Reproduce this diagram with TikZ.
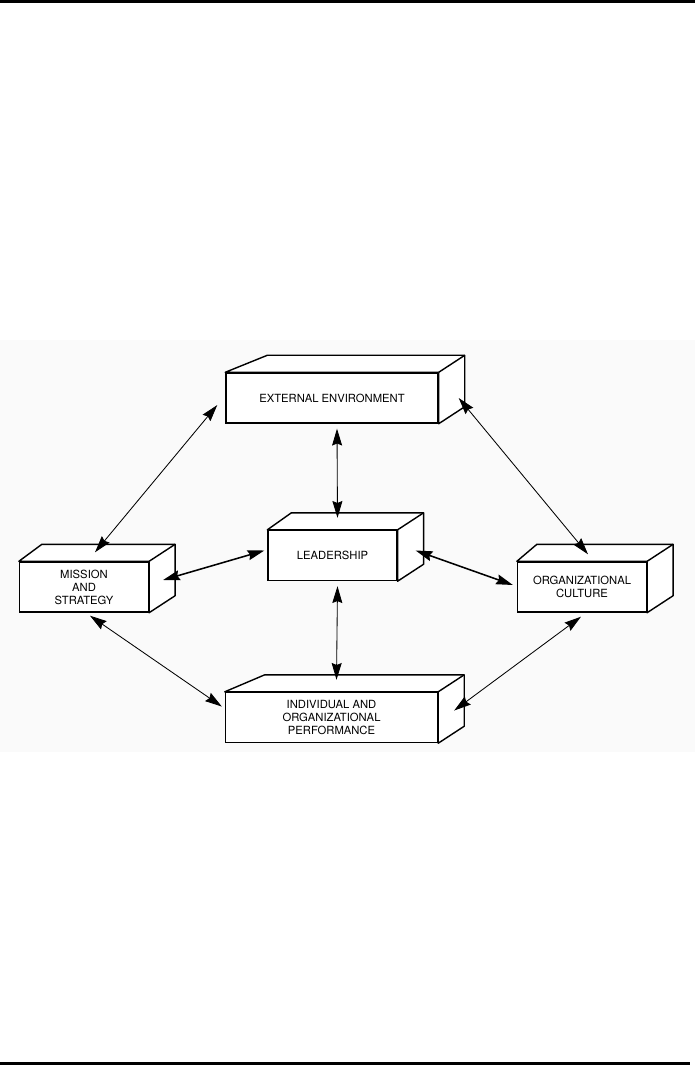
\documentclass[tikz,border=0pt]{standalone}
\usepackage{fontspec}
\setmainfont{TeX Gyre Heros}
\usetikzlibrary{arrows.meta}

\begin{document}
\begin{tikzpicture}[
    x=0.025cm, y=-0.025cm,
    block/.style={draw, fill=white, line width=1pt, inner sep=0pt, minimum height=1.25cm, align=center, font=\fontsize{8}{9.2}\selectfont},
    wide/.style={block, minimum width=5.3cm},
    narrow/.style={block, minimum width=3.22cm},
    face/.style={draw, fill=white, line width=1pt, line join=round},
    link/.style={draw, line width=0.6pt, {Stealth[length=4.2mm,width=2.5mm,inset=0.5mm]}-{Stealth[length=4.2mm,width=2.5mm,inset=0.5mm]}},
    boldlink/.style={link, line width=1.1pt}
]

% Page frame and scanned area
\useasboundingbox (0,0) rectangle (695,1066);
\fill[black!2] (0,340) rectangle (695,752);
\draw[line width=2.1pt] (0,1.5) -- (695,1.5);
\draw[line width=2.1pt] (0,1063.5) -- (690,1063.5);

% Define node positions
\node[wide] (EE) at (332,398) {EXTERNAL ENVIRONMENT};
\node[narrow] (L) at (332.5,555.5) {LEADERSHIP};
\node[narrow] (MS) at (84,587) {MISSION\\AND\\STRATEGY};
\node[narrow] (OC) at (582,587) {ORGANIZATIONAL\\CULTURE};
\node[wide] (IOP) at (331.5,717.5) {INDIVIDUAL AND\\ORGANIZATIONAL\\PERFORMANCE};

% Give each block its depth
\foreach \n/\l in {EE/42, L/24, MS/23, OC/20, IOP/40} {
  \draw[face] (\n.north west) -- ++(\l,-17) -- ([shift={(26,-17)}]\n.north east)
    -- ([shift={(26,-17)}]\n.south east) -- (\n.south east) -- (\n.north east) -- cycle;
  \draw[face] (\n.north east) -- ++(26,-17);
}

% Draw two-way arrows
\draw[link] ([shift={(-8,7)}]EE.west) -- ([shift={(11,-9)}]MS.north);
\draw[link] ([shift={(20,0)}]EE.east) -- ([shift={(6,-7)}]OC.north);
\draw[link] ([shift={(5,5)}]EE.south) -- ([shift={(5,-12)}]L.north);
\draw[boldlink] ([shift={(14,-7)}]MS.east) -- ([shift={(-3,-5)}]L.west);
\draw[boldlink] ([shift={(18,-5)}]L.east) -- ([shift={(-4,-2)}]OC.west);
\draw[link] ([shift={(5,5)}]L.south) -- ([shift={(5,-12)}]IOP.north);
\draw[link] ([shift={(6,3)}]MS.south) -- ([shift={(-3,-11)}]IOP.west);
\draw[link] ([shift={(-1,4)}]OC.south) -- ([shift={(16,-7)}]IOP.east);

\end{tikzpicture}
\end{document}
